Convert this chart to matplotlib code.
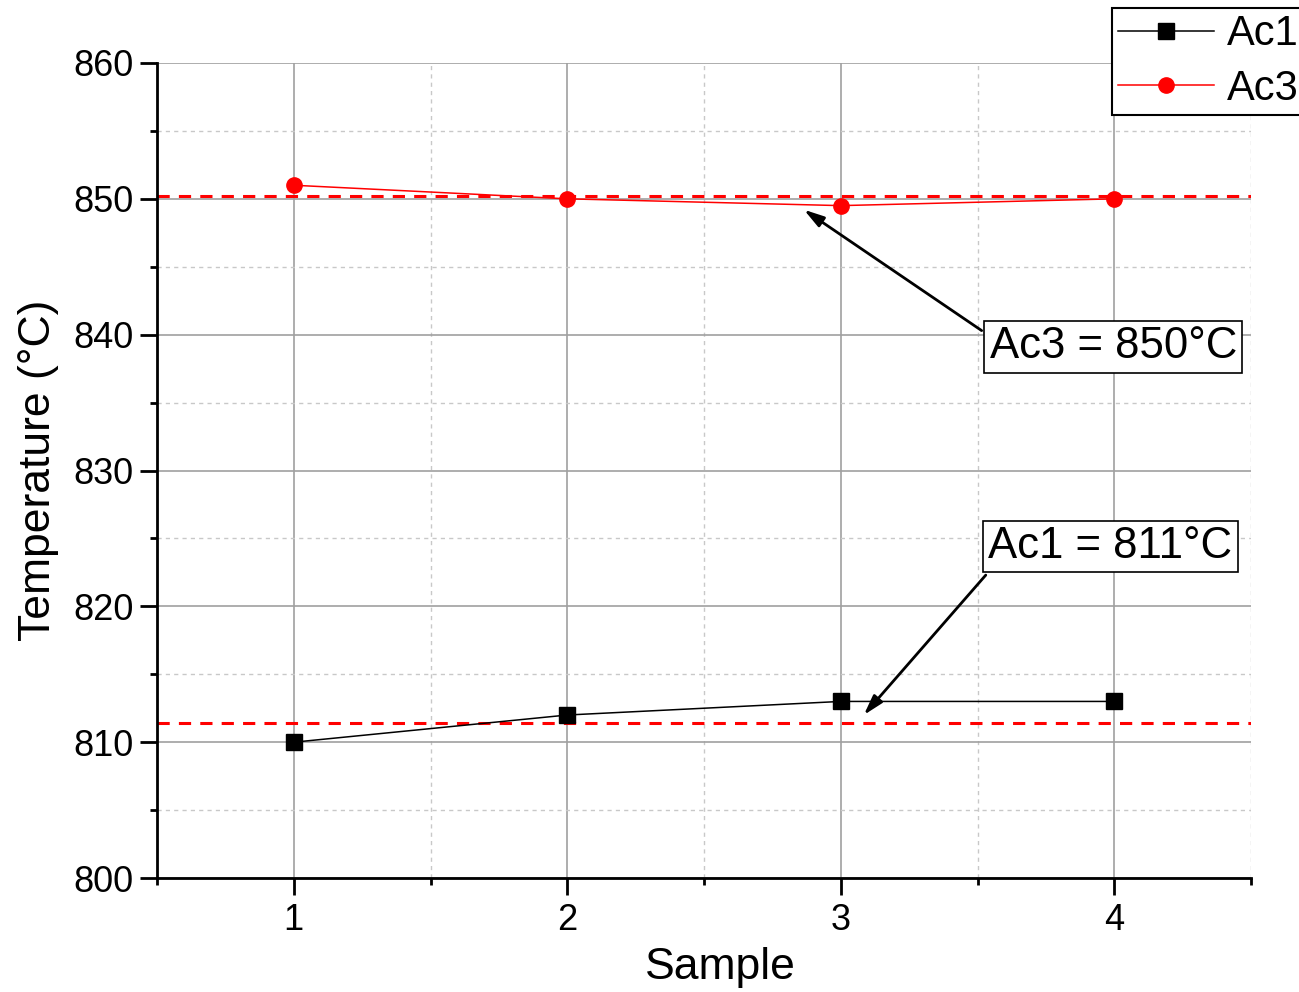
import matplotlib
matplotlib.use("Agg")
import matplotlib.pyplot as plt
from matplotlib.ticker import MultipleLocator

plt.rcParams['font.family'] = ['Liberation Sans', 'DejaVu Sans']

samples = [1, 2, 3, 4]
ac1 = [810, 812, 813, 813]
ac3 = [851, 850, 849.5, 850]
ac1_mean = 811.4
ac3_mean = 850.2

fig = plt.figure(figsize=(12.99, 9.92), dpi=100)
ax = fig.add_axes([0.1209, 0.1149, 0.8422, 0.8216])

# grid
ax.xaxis.set_major_locator(MultipleLocator(1))
ax.xaxis.set_minor_locator(MultipleLocator(0.5))
ax.yaxis.set_major_locator(MultipleLocator(10))
ax.yaxis.set_minor_locator(MultipleLocator(5))
ax.grid(which='major', color='#a0a0a0', linewidth=1.2, linestyle='-')
ax.grid(which='minor', color='#c8c8c8', linewidth=1.0, linestyle=(0, (3, 3)))
ax.set_axisbelow(True)

# mean lines
ax.axhline(ac3_mean, color='#ff0000', linestyle=(0, (4, 3)), linewidth=2.2, zorder=2)
ax.axhline(ac1_mean, color='#ff0000', linestyle=(0, (4, 3)), linewidth=2.2, zorder=2)

# data
ax.plot(samples, ac1, color='black', marker='s', markersize=11, linewidth=1.1, label='Ac1', zorder=3)
ax.plot(samples, ac3, color='#ff0000', marker='o', markersize=11, linewidth=1.1, label='Ac3', zorder=3)

ax.set_xlim(0.5, 4.5)
ax.set_ylim(800, 860)

for s in ['top', 'right']:
    ax.spines[s].set_visible(False)
for s in ['left', 'bottom']:
    ax.spines[s].set_linewidth(2)

ax.tick_params(which='major', direction='out', length=12, width=2, labelsize=26)
ax.tick_params(which='minor', direction='out', length=5, width=2)
ax.tick_params(axis='x', pad=6)
ax.tick_params(axis='y', pad=5)

ax.set_xlabel('Sample', fontsize=32)
ax.set_ylabel('Temperature (°C)', fontsize=32, labelpad=10)
ax.xaxis.set_label_coords(0.515, -0.085)

# annotations
box = dict(boxstyle='square,pad=0.12', facecolor='white', edgecolor='black', linewidth=1.2)
ax.text(3.996, 839.1, 'Ac3 = 850°C', fontsize=31.5, ha='center', va='center', bbox=box, zorder=5)
ax.text(3.985, 824.4, 'Ac1 = 811°C', fontsize=31.5, ha='center', va='center', bbox=box, zorder=5)
arrow = dict(arrowstyle='-|>,head_length=1.2,head_width=0.35', color='black', linewidth=2,
             shrinkA=0, shrinkB=0)
ax.annotate('', xy=(2.865, 849.2), xytext=(3.515, 840.3), arrowprops=arrow, zorder=4)
ax.annotate('', xy=(3.084, 812.0), xytext=(3.53, 822.3), arrowprops=arrow, zorder=4)

# legend sits partly past the right edge, as in the original
leg = fig.legend(loc='upper left', bbox_to_anchor=(1112 / 1299, 1 - 8 / 992), fontsize=30,
                 handlelength=2.3, borderaxespad=0, fancybox=False, framealpha=1,
                 edgecolor='black', borderpad=0.15, labelspacing=0.35, handletextpad=0.3)
leg.get_frame().set_linewidth(1.5)

fig.savefig('out.png', dpi=100)
